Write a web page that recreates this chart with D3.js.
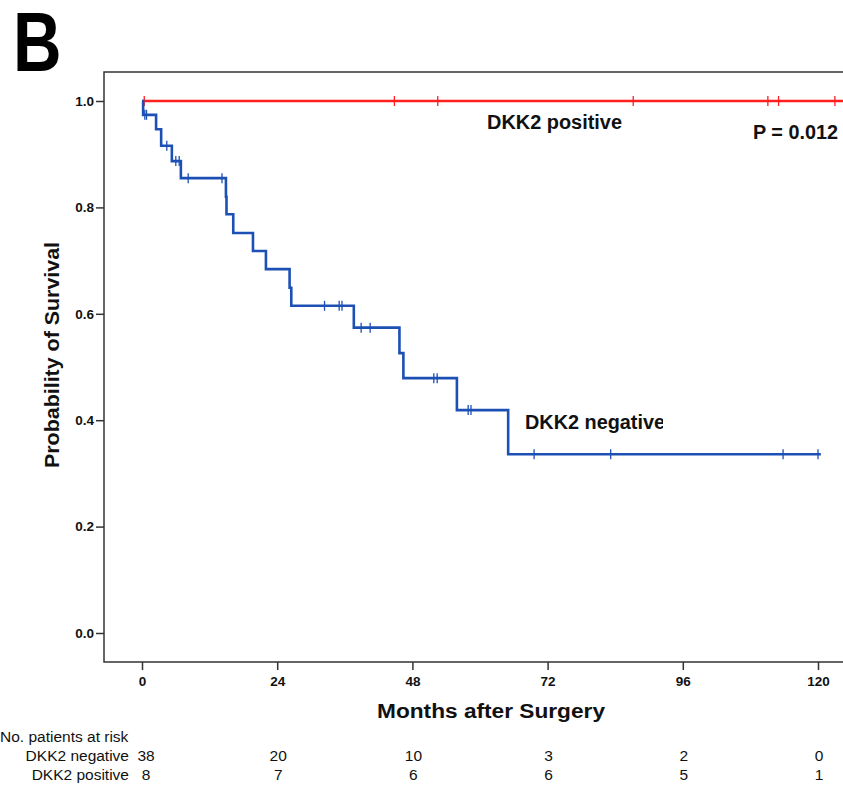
<!DOCTYPE html>
<html>
<head>
<meta charset="utf-8">
<script src="https://cdn.jsdelivr.net/npm/d3@7/dist/d3.min.js"></script>
<style>
  html, body { margin: 0; padding: 0; background: #fff; }
  svg { display: block; }
  text { font-family: "Liberation Sans", Arial, Helvetica, sans-serif; }
</style>
</head>
<body>
<svg id="chart" width="843" height="787"></svg>
<script>
// ---- Data ----
const xTicks = [0, 24, 48, 72, 96, 120];
const yTicks = [0.0, 0.2, 0.4, 0.6, 0.8, 1.0];

// DKK2 negative: event times (months) and survival after each event
const negTimes = [0.2, 2.5, 3.4, 5.3, 6.9, 14.9, 15.0, 16.2, 19.7, 22.0, 26.2, 26.5, 37.6, 45.7, 46.4, 55.9, 65.0];
const negSurv  = [0.974, 0.947, 0.916, 0.887, 0.855, 0.820, 0.787, 0.752, 0.718, 0.684, 0.649, 0.615, 0.574, 0.526, 0.479, 0.419, 0.336];
const negEnd = 120.5;
const negCensor = [0.5, 0.8, 4.4, 6.0, 6.6, 8.2, 14.2, 32.4, 35.0, 35.5, 38.9, 40.5, 51.8, 52.4, 57.9, 58.4, 69.6, 83.2, 113.8, 120.0];

// DKK2 positive: no events
const posTimes = [];
const posSurv = [];
const posEnd = 127;
const posCensor = [0.4, 44.8, 52.5, 87.2, 111.1, 113.0, 123.0];

const riskLabels = ["DKK2 negative", "DKK2 positive"];
const riskNeg = [38, 20, 10, 3, 2, 0];
const riskPos = [8, 7, 6, 6, 5, 1];

// ---- Layout ----
const svg = d3.select("#chart");
const frame = { left: 104, top: 72, bottom: 662, right: 900 };
const x = d3.scaleLinear().domain([0, 120]).range([142, 818]);
const y = d3.scaleLinear().domain([0, 1]).range([633, 101]);

const RED = "#ff1f1f";
const BLUE = "#1d50b4";
const AX = "#333";

// Panel letter
svg.append("text")
  .attr("transform", "translate(13,71) scale(0.8,1)")
  .attr("font-size", 84).attr("font-weight", "bold").attr("fill", "#000")
  .text("B");

// Frame
svg.append("path")
  .attr("d", `M${frame.right},${frame.top}H${frame.left}V${frame.bottom}H${frame.right}`)
  .attr("fill", "none").attr("stroke", AX).attr("stroke-width", 1.5);

// Axes
const yAxis = d3.axisLeft(y).tickValues(yTicks).tickFormat(d3.format(".1f")).tickSize(8).tickPadding(2);
const gy = svg.append("g").attr("transform", `translate(${frame.left},0)`).call(yAxis);
gy.select(".domain").remove();

const xAxis = d3.axisBottom(x).tickValues(xTicks).tickSize(8).tickPadding(6);
const gx = svg.append("g").attr("transform", `translate(0,${frame.bottom})`).call(xAxis);
gx.select(".domain").remove();

[gx, gy].forEach(g => {
  g.selectAll(".tick line").attr("stroke", AX).attr("stroke-width", 1.5);
  g.selectAll(".tick text").attr("font-size", 13.5).attr("font-weight", "bold")
    .attr("fill", "#111").attr("font-family", '"Liberation Sans", Arial, sans-serif');
});

// Axis titles
svg.append("text")
  .attr("transform", "translate(59,355) rotate(-90)")
  .attr("text-anchor", "middle").attr("font-size", 20).attr("font-weight", "bold").attr("fill", "#111")
  .attr("textLength", 226).attr("lengthAdjust", "spacingAndGlyphs")
  .text("Probability of Survival");

svg.append("text")
  .attr("x", 491).attr("y", 718)
  .attr("text-anchor", "middle").attr("font-size", 20).attr("font-weight", "bold").attr("fill", "#111")
  .attr("textLength", 228).attr("lengthAdjust", "spacingAndGlyphs")
  .text("Months after Surgery");

// Survival curves
function stepPoints(times, surv, end) {
  const pts = [[0, 1]];
  times.forEach((t, i) => pts.push([t, surv[i]]));
  pts.push([end, surv.length ? surv[surv.length - 1] : 1]);
  return pts;
}
function survAt(times, surv, t) {
  let s = 1;
  times.forEach((tt, i) => { if (tt <= t) s = surv[i]; });
  return s;
}
const line = d3.line().x(d => x(d[0])).y(d => y(d[1])).curve(d3.curveStepAfter);

const series = [
  { times: posTimes, surv: posSurv, end: posEnd, censor: posCensor, color: RED },
  { times: negTimes, surv: negSurv, end: negEnd, censor: negCensor, color: BLUE }
];

series.forEach(s => {
  svg.append("path")
    .datum(stepPoints(s.times, s.surv, s.end))
    .attr("d", line)
    .attr("fill", "none").attr("stroke", s.color).attr("stroke-width", 2.6);
  svg.append("g").selectAll("line")
    .data(s.censor).join("line")
    .attr("x1", d => x(d)).attr("x2", d => x(d))
    .attr("y1", d => y(survAt(s.times, s.surv, d)) - 5)
    .attr("y2", d => y(survAt(s.times, s.surv, d)) + 5)
    .attr("stroke", s.color).attr("stroke-width", 1.3);
});

// Curve labels
svg.append("text").attr("x", 487).attr("y", 129)
  .attr("font-size", 19.5).attr("font-weight", "bold").attr("fill", "#111")
  .attr("textLength", 135).attr("lengthAdjust", "spacingAndGlyphs")
  .text("DKK2 positive");
svg.append("text").attr("x", 753).attr("y", 139)
  .attr("font-size", 19.5).attr("font-weight", "bold").attr("fill", "#111")
  .attr("textLength", 85).attr("lengthAdjust", "spacingAndGlyphs")
  .text("P = 0.012");

svg.append("clipPath").attr("id", "negclip")
  .append("rect").attr("x", 500).attr("y", 400).attr("width", 163).attr("height", 40);
svg.append("text").attr("x", 525).attr("y", 429)
  .attr("clip-path", "url(#negclip)")
  .attr("font-size", 19.5).attr("font-weight", "bold").attr("fill", "#111")
  .attr("textLength", 140).attr("lengthAdjust", "spacingAndGlyphs")
  .text("DKK2 negative");

// Risk table
svg.append("text").attr("x", 0).attr("y", 742)
  .attr("font-size", 15.5).attr("fill", "#111").text("No. patients at risk");

[riskNeg, riskPos].forEach((row, r) => {
  const yy = 761 + r * 19;
  svg.append("text").attr("x", 129).attr("y", yy).attr("text-anchor", "end")
    .attr("font-size", 15.5).attr("fill", "#111").text(riskLabels[r]);
  svg.append("g").selectAll("text").data(row).join("text")
    .attr("x", (d, i) => x(xTicks[i]) + (i === 0 ? 4 : 1))
    .attr("y", yy).attr("text-anchor", "middle")
    .attr("font-size", 15.5).attr("fill", "#111")
    .text(d => d);
});
</script>
</body>
</html>
